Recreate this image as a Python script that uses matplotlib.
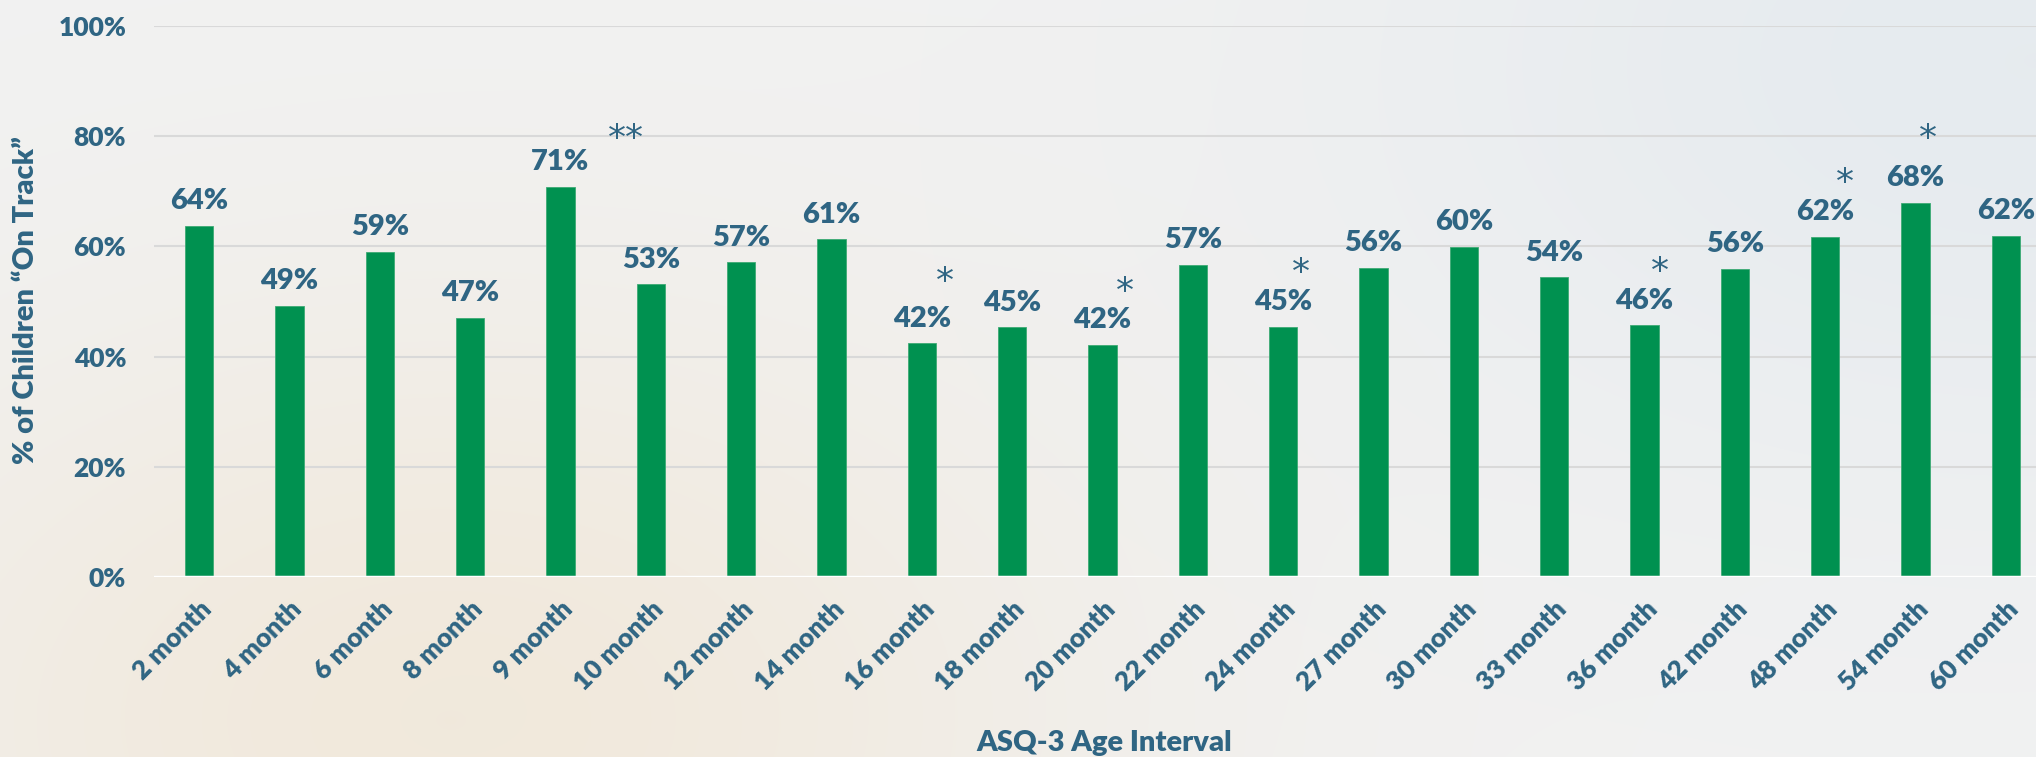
import numpy as np
import matplotlib.pyplot as plt

# --- data ---
ages = ['2 month', '4 month', '6 month', '8 month', '9 month', '10 month',
        '12 month', '14 month', '16 month', '18 month', '20 month', '22 month',
        '24 month', '27 month', '30 month', '33 month', '36 month', '42 month',
        '48 month', '54 month', '60 month']
on_track = [0.637, 0.492, 0.590, 0.470, 0.708, 0.531, 0.571, 0.613, 0.424,
            0.453, 0.421, 0.566, 0.454, 0.561, 0.599, 0.544, 0.457, 0.559,
            0.617, 0.679, 0.619]
# significance marks: (bar index, text)
sig_idx = [5, 8, 10, 12, 16, 18, 19]
sig_txt = ['**', '*', '*', '*', '*', '*', '*']
sig_level = [0.815, 0.555, 0.537, 0.572, 0.574, 0.735, 0.815]
sig_dx = [-18, 17, 16, 13, 11, 14, 9]  # points, sideways nudge

TXT = '#2F6583'
GREEN = '#009150'
FONT = ['Lato', 'DejaVu Sans']
plt.rcParams['font.family'] = FONT

W, H = 2036, 757
fig = plt.figure(figsize=(W / 100, H / 100), dpi=100)

# background: light grey with a warm glow lower left and cool tint upper right
yy, xx = np.mgrid[0:H, 0:W]
base = np.array([242, 242, 242], float)
warm = np.exp(-(((xx - 450) / 650.0) ** 2 + ((yy - 720) / 420.0) ** 2))
cool = np.exp(-(((xx - 2036) / 700.0) ** 2 + ((yy - 60) / 450.0) ** 2))
img = (base[None, None, :]
       + warm[..., None] * (np.array([241, 233, 220]) - base)
       + cool[..., None] * (np.array([230, 235, 239]) - base))
bg = fig.add_axes([0, 0, 1, 1], zorder=-10)
bg.imshow(img.astype(np.uint8), aspect='auto')
bg.axis('off')

# main axes (extends a bit past the right edge, like the original slide)
left, right = 154, 2051
bottom, top = 577, 26
ax = fig.add_axes([left / W, 1 - bottom / H, (right - left) / W, (bottom - top) / H])
ax.set_facecolor('none')

x = np.arange(len(ages))
ax.bar(x, on_track, width=0.31, color=GREEN, edgecolor='#3DAA74', linewidth=0.6, zorder=3)

for xi, v in zip(x, on_track):
    ax.annotate(f'{round(v * 100)}%', (xi, v), xytext=(0, 12), textcoords='offset points',
                ha='center', va='baseline', fontsize=21, fontweight='heavy', color=TXT)

for i, t, lv, dx in zip(sig_idx, sig_txt, sig_level, sig_dx):
    ax.annotate(t, (x[i], lv), xytext=(dx, -15), textcoords='offset points',
                ha='center', va='baseline', fontsize=26, color=TXT, family='DejaVu Sans')

ax.set_xlim(-0.5, len(ages) - 0.5)
ax.set_ylim(0, 1.0)
ax.set_yticks(np.arange(0, 1.01, 0.2))
ax.set_yticklabels([f'{int(round(t * 100))}%' for t in np.arange(0, 1.01, 0.2)])
ax.set_xticks(x)
ax.set_xticklabels(ages, rotation=45, ha='right', va='top', rotation_mode='anchor')
ax.tick_params(axis='both', length=0, colors=TXT, labelsize=19)
ax.tick_params(axis='y', pad=20)
ax.tick_params(axis='x', pad=14)
for lab in ax.get_xticklabels() + ax.get_yticklabels():
    lab.set_fontweight('heavy')

ax.grid(axis='y', color='#D9D9D9', linewidth=1.5, zorder=0)
for s in ax.spines.values():
    s.set_visible(False)
ax.axhline(0, color='white', linewidth=2.5, zorder=4)

fig.text(26 / W, 1 - 300 / H, '% of Children \u201cOn Track\u201d', rotation=90,
         ha='center', va='center', fontsize=21, fontweight='heavy', color=TXT)
fig.text(1104 / W, 1 - 743 / H, 'ASQ-3 Age Interval', ha='center', va='center',
         fontsize=21, fontweight='heavy', color=TXT)

fig.savefig('out.png', dpi=100)
